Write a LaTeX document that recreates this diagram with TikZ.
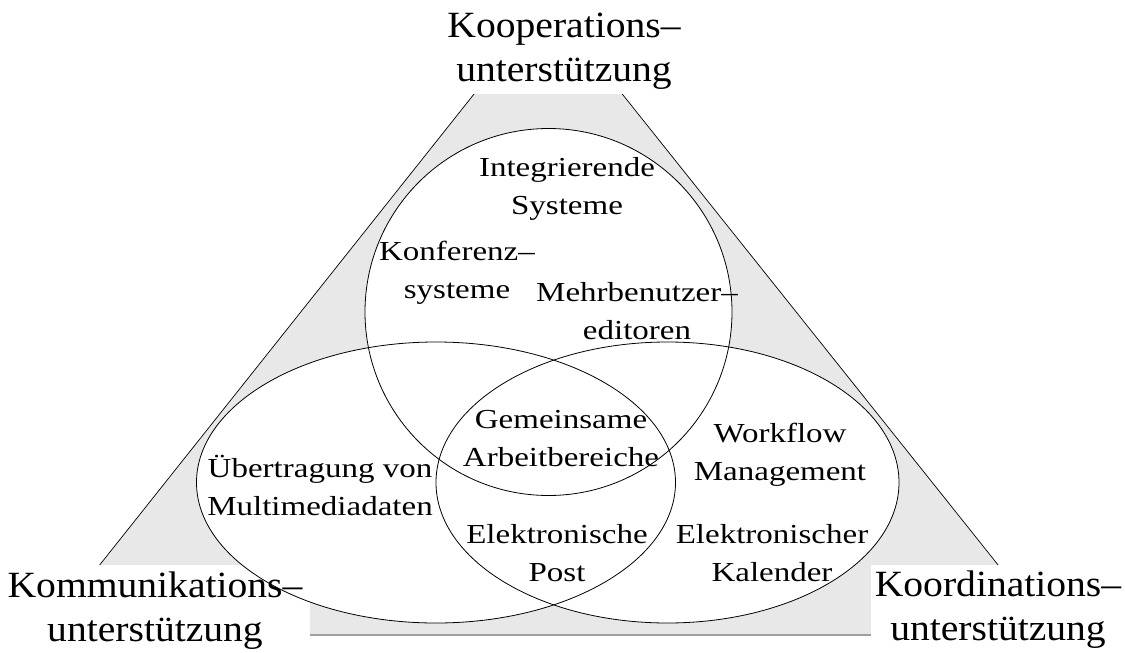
\documentclass[tikz,border=0pt]{standalone}
\usepackage{fontspec}
\setmainfont{Liberation Serif}
\newfontfamily\lblfont{Liberation Serif}[FakeStretch=1.2,Ligatures=TeX]
\newfontfamily\cornerfont{Liberation Serif}[FakeStretch=1.07,Ligatures=TeX]
\newcommand\twolines[2]{\begin{tabular}[t]{@{}c@{}}#1\\#2\end{tabular}}
% first row raised by an invisible rule so the white box reaches the top edge
\newcommand\cornerlines[3]{\begin{tabular}[t]{@{}c@{}}\rule{0pt}{#1}#2\\#3\end{tabular}}
\begin{document}
\begin{tikzpicture}[x=1pt,y=-1pt,
  venn/.style={draw=black, line width=0.8pt},
  vennfill/.style={fill=white},
  lbl/.style={font=\lblfont\fontsize{27.5}{38}\selectfont, inner sep=0pt, anchor=base},
  corner/.style={font=\cornerfont\fontsize{37}{44}\selectfont, fill=white, inner sep=0pt, anchor=base},
  side/.style={draw=black, line width=0.7pt},
  baseline edge/.style={draw=gray!75, line width=1.6pt}]
  % canvas
  \fill[white] (0,0) rectangle (1125,653);
  \useasboundingbox (0,0) rectangle (1125,653);

  % grey triangle
  \coordinate (apex) at (548,1);
  \coordinate (bl) at (44,635);
  \coordinate (br) at (1054,635);
  \fill[gray!18] (apex) -- (bl) -- (br) -- cycle;
  \draw[side] (bl) -- (apex) -- (br);
  \draw[baseline edge] (bl) -- (br);

  % ellipse interiors
  \coordinate (ctop) at (548.5,312);
  \coordinate (cleft) at (436,482.5);
  \coordinate (cright) at (667.5,482.5);
  \fill[vennfill] (ctop) circle [radius=183.5pt];
  \fill[vennfill] (cleft) ellipse [x radius=239.5pt, y radius=140.5pt];
  \fill[vennfill] (cright) ellipse [x radius=231.5pt, y radius=140.5pt];

  % corner labels
  \node[corner, minimum width=237pt] (koop) at (564,37)
    {\cornerlines{38pt}{Kooperations–}{unterstützung}};
  \node[corner, minimum width=310pt] (komm) at (155,597)
    {\cornerlines{32pt}{Kommunikations–}{unterstützung}};
  \node[corner, minimum width=254pt] (koord) at (998,596)
    {\cornerlines{31pt}{Koordinations–}{unterstützung}};

  % ellipse outlines
  \draw[venn] (ctop) circle [radius=183.5pt];
  \draw[venn] (cleft) ellipse [x radius=239.5pt, y radius=140.5pt];
  \draw[venn] (cright) ellipse [x radius=231.5pt, y radius=140.5pt];

  % system types
  \node[lbl] (integ)  at (567,176) {\twolines{Integrierende}{Systeme}};
  \node[lbl] (konf)   at (457,260) {\twolines{Konferenz–}{systeme}};
  \node[lbl] (mehr)   at (637,301) {\twolines{Mehrbenutzer–}{editoren}};
  \node[lbl] (uebert) at (320,477) {\twolines{Übertragung von}{Multimediadaten}};
  \node[lbl] (gemein) at (561,428) {\twolines{Gemeinsame}{Arbeitbereiche}};
  \node[lbl] (workfl) at (780,442) {\twolines{Workflow}{Management}};
  \node[lbl] (epost)  at (557,543) {\twolines{Elektronische}{Post}};
  \node[lbl] (ekal)   at (772,543) {\twolines{Elektronischer}{Kalender}};
\end{tikzpicture}
\end{document}
